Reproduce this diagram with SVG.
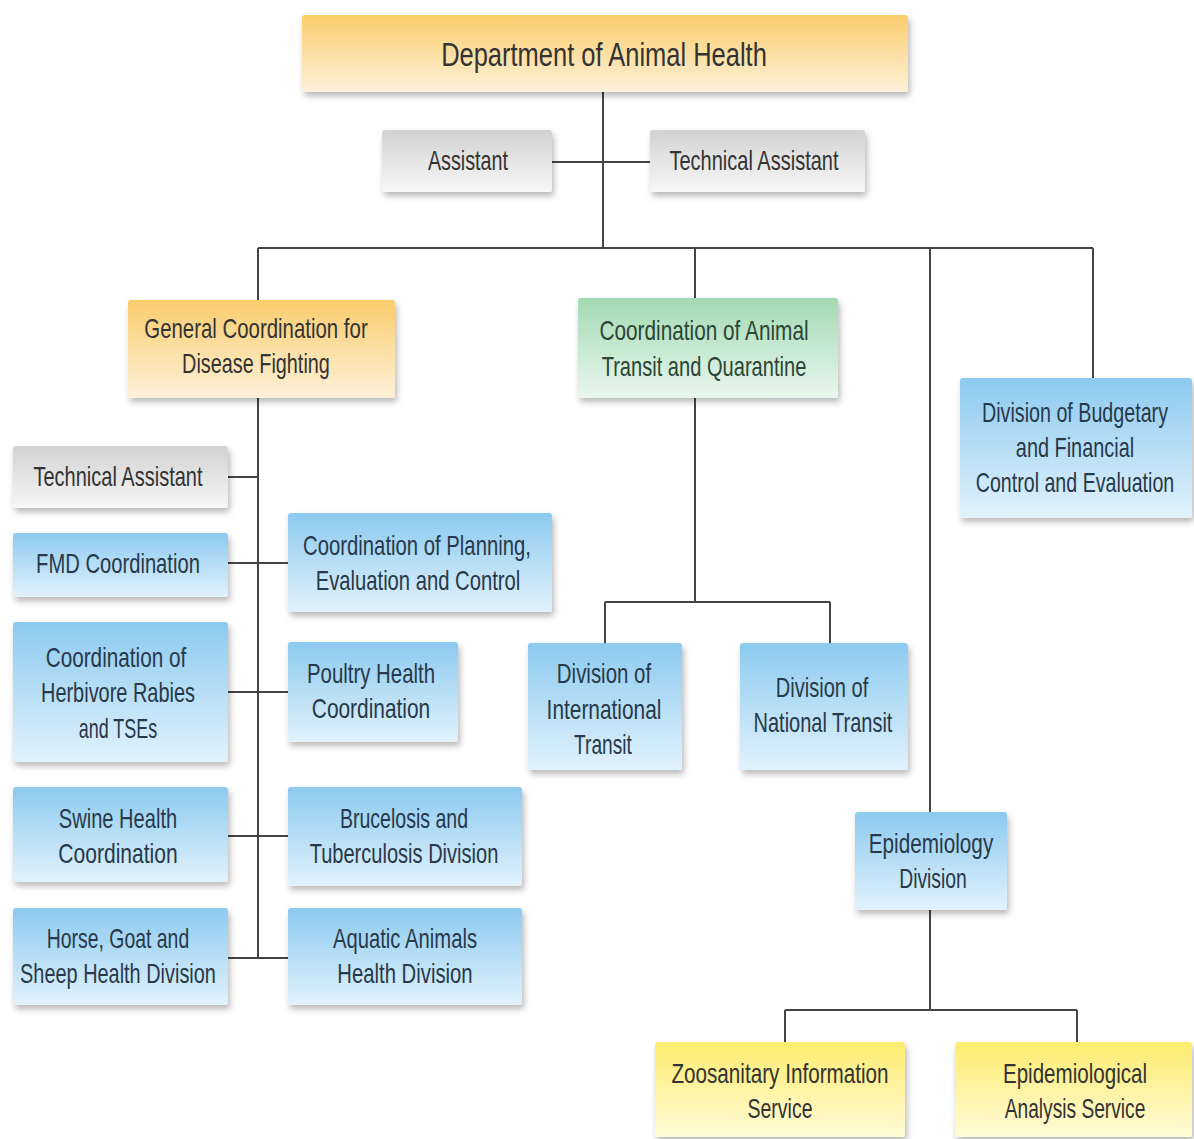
<svg xmlns="http://www.w3.org/2000/svg" width="1194" height="1139" viewBox="0 0 1194 1139">
<defs>
<linearGradient id="gOrange" x1="0" y1="0" x2="0" y2="1"><stop offset="0" stop-color="#fbcd6c"/><stop offset="1" stop-color="#fdf1da"/></linearGradient>
<linearGradient id="gBlue" x1="0" y1="0" x2="0" y2="1"><stop offset="0" stop-color="#8ccaef"/><stop offset="1" stop-color="#e2f2fc"/></linearGradient>
<linearGradient id="gGreen" x1="0" y1="0" x2="0" y2="1"><stop offset="0" stop-color="#a3dab3"/><stop offset="1" stop-color="#eaf7ee"/></linearGradient>
<linearGradient id="gGray" x1="0" y1="0" x2="0" y2="1"><stop offset="0" stop-color="#d2d2d2"/><stop offset="1" stop-color="#f7f7f7"/></linearGradient>
<linearGradient id="gYellow" x1="0" y1="0" x2="0" y2="1"><stop offset="0" stop-color="#fdec6e"/><stop offset="1" stop-color="#fffbd8"/></linearGradient>
<filter id="sh" x="-10%" y="-10%" width="125%" height="135%"><feDropShadow dx="2" dy="4" stdDeviation="3" flood-color="#000" flood-opacity="0.28"/></filter>
</defs>
<style>
.box{filter:url(#sh)}
.t{font-family:"Liberation Sans",Arial,sans-serif;font-size:28px;fill:#333;text-anchor:middle}
.tb{fill:#27394a}
.tg{fill:#2b4636}
.c{stroke:#444;stroke-width:2;fill:none}
</style>
<rect width="1194" height="1139" fill="#fff"/>
<g id="connectors">
<path class="c" d="M603 92V248M552 162H650M258 248H1093M258 248V300M695 248V298M930 248V812M1093 248V378"/>
<path class="c" d="M258 398V958M228 477H258M228 563H288M228 692H288M228 836H288M228 958H288"/>
<path class="c" d="M695 398V602M605 602H830M605 602V643M830 602V643"/>
<path class="c" d="M930 910V1010M785 1010H1077M785 1010V1042M1077 1010V1042"/>
</g>
<g id="n-dept"><rect class="box" x="302" y="15" width="606" height="77" rx="3" fill="url(#gOrange)"/><text class="t" style="font-size:34px" transform="matrix(0.89 0 0 1 66.44 0)" x="604" y="66" textLength="366" lengthAdjust="spacingAndGlyphs">Department of Animal Health</text></g>
<g id="n-assistant"><rect class="box" x="382" y="130" width="170" height="62" rx="3" fill="url(#gGray)"/><text class="t" transform="matrix(0.89 0 0 1 51.48 0)" x="468" y="170" textLength="90" lengthAdjust="spacingAndGlyphs">Assistant</text></g>
<g id="n-techassistant"><rect class="box" x="650" y="130" width="215" height="62" rx="3" fill="url(#gGray)"/><text class="t" transform="matrix(0.89 0 0 1 82.94 0)" x="754" y="170" textLength="190" lengthAdjust="spacingAndGlyphs">Technical Assistant</text></g>
<g id="n-general"><rect class="box" x="128" y="300" width="267" height="98" rx="3" fill="url(#gOrange)"/><text class="t" transform="matrix(0.89 0 0 1 28.16 0)" x="256" y="338" textLength="251" lengthAdjust="spacingAndGlyphs">General Coordination for</text><text class="t" transform="matrix(0.89 0 0 1 28.16 0)" x="256" y="373" textLength="166" lengthAdjust="spacingAndGlyphs">Disease Fighting</text></g>
<g id="n-transit"><rect class="box" x="578" y="298" width="260" height="100" rx="3" fill="url(#gGreen)"/><text class="t tg" transform="matrix(0.89 0 0 1 77.44 0)" x="704" y="340" textLength="235" lengthAdjust="spacingAndGlyphs">Coordination of Animal</text><text class="t tg" transform="matrix(0.89 0 0 1 77.44 0)" x="704" y="376" textLength="230" lengthAdjust="spacingAndGlyphs">Transit and Quarantine</text></g>
<g id="n-budget"><rect class="box" x="960" y="378" width="232" height="140" rx="3" fill="url(#gBlue)"/><text class="t tb" transform="matrix(0.89 0 0 1 118.25 0)" x="1075" y="422" textLength="209" lengthAdjust="spacingAndGlyphs">Division of Budgetary</text><text class="t tb" transform="matrix(0.89 0 0 1 118.25 0)" x="1075" y="457" textLength="133" lengthAdjust="spacingAndGlyphs">and Financial</text><text class="t tb" transform="matrix(0.89 0 0 1 118.25 0)" x="1075" y="492" textLength="223" lengthAdjust="spacingAndGlyphs">Control and Evaluation</text></g>
<g id="n-techassistant2"><rect class="box" x="13" y="446" width="215" height="62" rx="3" fill="url(#gGray)"/><text class="t" transform="matrix(0.89 0 0 1 12.98 0)" x="118" y="486" textLength="190" lengthAdjust="spacingAndGlyphs">Technical Assistant</text></g>
<g id="n-fmd"><rect class="box" x="13" y="533" width="215" height="64" rx="3" fill="url(#gBlue)"/><text class="t tb" transform="matrix(0.89 0 0 1 12.98 0)" x="118" y="573" textLength="184" lengthAdjust="spacingAndGlyphs">FMD Coordination</text></g>
<g id="n-planning"><rect class="box" x="288" y="513" width="264" height="99" rx="3" fill="url(#gBlue)"/><text class="t tb" transform="matrix(0.89 0 0 1 45.87 0)" x="417" y="555" textLength="256" lengthAdjust="spacingAndGlyphs">Coordination of Planning,</text><text class="t tb" transform="matrix(0.89 0 0 1 45.98 0)" x="418" y="590" textLength="230" lengthAdjust="spacingAndGlyphs">Evaluation and Control</text></g>
<g id="n-rabies"><rect class="box" x="13" y="622" width="215" height="140" rx="3" fill="url(#gBlue)"/><text class="t tb" transform="matrix(0.89 0 0 1 12.76 0)" x="116" y="667" textLength="158" lengthAdjust="spacingAndGlyphs">Coordination of</text><text class="t tb" transform="matrix(0.89 0 0 1 12.98 0)" x="118" y="702" textLength="173" lengthAdjust="spacingAndGlyphs">Herbivore Rabies</text><text class="t tb" transform="matrix(0.89 0 0 1 12.98 0)" x="118" y="738" textLength="88" lengthAdjust="spacingAndGlyphs">and TSEs</text></g>
<g id="n-poultry"><rect class="box" x="288" y="642" width="170" height="100" rx="3" fill="url(#gBlue)"/><text class="t tb" transform="matrix(0.89 0 0 1 40.81 0)" x="371" y="683" textLength="144" lengthAdjust="spacingAndGlyphs">Poultry Health</text><text class="t tb" transform="matrix(0.89 0 0 1 40.81 0)" x="371" y="718" textLength="133" lengthAdjust="spacingAndGlyphs">Coordination</text></g>
<g id="n-swine"><rect class="box" x="13" y="787" width="215" height="95" rx="3" fill="url(#gBlue)"/><text class="t tb" transform="matrix(0.89 0 0 1 12.98 0)" x="118" y="828" textLength="133" lengthAdjust="spacingAndGlyphs">Swine Health</text><text class="t tb" transform="matrix(0.89 0 0 1 12.98 0)" x="118" y="863" textLength="134" lengthAdjust="spacingAndGlyphs">Coordination</text></g>
<g id="n-brucelosis"><rect class="box" x="288" y="787" width="234" height="99" rx="3" fill="url(#gBlue)"/><text class="t tb" transform="matrix(0.89 0 0 1 44.44 0)" x="404" y="828" textLength="144" lengthAdjust="spacingAndGlyphs">Brucelosis and</text><text class="t tb" transform="matrix(0.89 0 0 1 44.44 0)" x="404" y="863" textLength="212" lengthAdjust="spacingAndGlyphs">Tuberculosis Division</text></g>
<g id="n-horse"><rect class="box" x="13" y="908" width="215" height="97" rx="3" fill="url(#gBlue)"/><text class="t tb" transform="matrix(0.89 0 0 1 12.98 0)" x="118" y="948" textLength="160" lengthAdjust="spacingAndGlyphs">Horse, Goat and</text><text class="t tb" transform="matrix(0.89 0 0 1 12.98 0)" x="118" y="983" textLength="220" lengthAdjust="spacingAndGlyphs">Sheep Health Division</text></g>
<g id="n-aquatic"><rect class="box" x="288" y="908" width="234" height="97" rx="3" fill="url(#gBlue)"/><text class="t tb" transform="matrix(0.89 0 0 1 44.55 0)" x="405" y="948" textLength="162" lengthAdjust="spacingAndGlyphs">Aquatic Animals</text><text class="t tb" transform="matrix(0.89 0 0 1 44.55 0)" x="405" y="983" textLength="152" lengthAdjust="spacingAndGlyphs">Health Division</text></g>
<g id="n-international"><rect class="box" x="528" y="643" width="154" height="127" rx="3" fill="url(#gBlue)"/><text class="t tb" transform="matrix(0.89 0 0 1 66.44 0)" x="604" y="683" textLength="106" lengthAdjust="spacingAndGlyphs">Division of</text><text class="t tb" transform="matrix(0.89 0 0 1 66.44 0)" x="604" y="719" textLength="129" lengthAdjust="spacingAndGlyphs">International</text><text class="t tb" transform="matrix(0.89 0 0 1 66.33 0)" x="603" y="754" textLength="65" lengthAdjust="spacingAndGlyphs">Transit</text></g>
<g id="n-national"><rect class="box" x="740" y="643" width="168" height="127" rx="3" fill="url(#gBlue)"/><text class="t tb" transform="matrix(0.89 0 0 1 90.42 0)" x="822" y="697" textLength="104" lengthAdjust="spacingAndGlyphs">Division of</text><text class="t tb" transform="matrix(0.89 0 0 1 90.53 0)" x="823" y="732" textLength="156" lengthAdjust="spacingAndGlyphs">National Transit</text></g>
<g id="n-epidemiology"><rect class="box" x="855" y="812" width="152" height="98" rx="3" fill="url(#gBlue)"/><text class="t tb" transform="matrix(0.89 0 0 1 102.41 0)" x="931" y="853" textLength="140" lengthAdjust="spacingAndGlyphs">Epidemiology</text><text class="t tb" transform="matrix(0.89 0 0 1 102.63 0)" x="933" y="888" textLength="76" lengthAdjust="spacingAndGlyphs">Division</text></g>
<g id="n-zoosanitary"><rect class="box" x="655" y="1042" width="250" height="95" rx="3" fill="url(#gYellow)"/><text class="t" transform="matrix(0.89 0 0 1 85.8 0)" x="780" y="1083" textLength="244" lengthAdjust="spacingAndGlyphs">Zoosanitary Information</text><text class="t" transform="matrix(0.89 0 0 1 85.8 0)" x="780" y="1118" textLength="73" lengthAdjust="spacingAndGlyphs">Service</text></g>
<g id="n-epianalysis"><rect class="box" x="955" y="1042" width="237" height="95" rx="3" fill="url(#gYellow)"/><text class="t" transform="matrix(0.89 0 0 1 118.25 0)" x="1075" y="1083" textLength="162" lengthAdjust="spacingAndGlyphs">Epidemiological</text><text class="t" transform="matrix(0.89 0 0 1 118.25 0)" x="1075" y="1118" textLength="158" lengthAdjust="spacingAndGlyphs">Analysis Service</text></g>
</svg>
